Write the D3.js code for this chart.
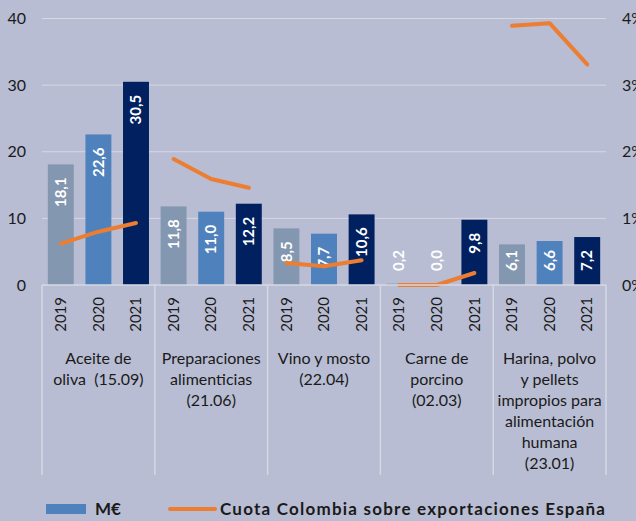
<!DOCTYPE html>
<html lang="es">
<head>
  <meta charset="UTF-8">
  <title>Exportaciones España - Colombia</title>
  <script src="https://cdn.jsdelivr.net/npm/d3@7"></script>
  <style>
    html, body {
      margin: 0;
      padding: 0;
      background: #b8bdd3;
    }
    svg text {
      font-family: Lato, "Open Sans", sans-serif;
      fill: #1a1a1a;
    }
  </style>
</head>
<body>
  <div id="chart"></div>

  <script>
    // Data
    const categories = [
      "Aceite de\noliva  (15.09)",
      "Preparaciones\nalimenticias\n(21.06)",
      "Vino y mosto\n(22.04)",
      "Carne de\nporcino\n(02.03)",
      "Harina, polvo\ny pellets\nimpropios para\nalimentación\nhumana\n(23.01)"
    ];
    const years = ["2019", "2020", "2021"];

    // M€ per year, one value per category
    const meur2019 = [18.1, 11.8, 8.5, 0.2, 6.1];
    const meur2020 = [22.6, 11.0, 7.7, 0.0, 6.6];
    const meur2021 = [30.5, 12.2, 10.6, 9.8, 7.2];

    // Colombia's share of Spanish exports
    const share2019 = [0.0062, 0.0189, 0.0033, 0.0000, 0.0389];
    const share2020 = [0.0080, 0.0159, 0.0028, 0.0000, 0.0393];
    const share2021 = [0.0093, 0.0146, 0.0037, 0.0018, 0.0331];

    const leftTicks = [0, 10, 20, 30, 40];
    const rightTicks = [0, 0.01, 0.02, 0.03, 0.04];

    const legendLabels = ["M€", "Cuota Colombia sobre exportaciones España"];

    const meur = [meur2019, meur2020, meur2021];
    const share = [share2019, share2020, share2021];

    const W = 636, H = 521;
    const plot = { left: 42, right: 606, top: 18.5, bottom: 285 };

    const yearColor = d3.scaleOrdinal().domain(years).range(["#8497b0", "#4f81bd", "#002060"]);
    const lineColor = "#ed7d31";
    const gridColor = "#d6d8e2";

    const esLocale = d3.formatLocale({ decimal: ",", thousands: ".", grouping: [3], currency: ["", "€"] });
    const fmtVal = esLocale.format(".1f");

    const svg = d3.select("#chart").append("svg")
      .attr("width", W)
      .attr("height", H);

    const x0 = d3.scaleBand().domain(categories).range([plot.left, plot.right]);
    const x1 = d3.scaleBand().domain(years).range([0, x0.bandwidth()])
      .paddingInner(0.31).paddingOuter(0.155);
    const y = d3.scaleLinear().domain([0, 40]).range([plot.bottom, plot.top]);
    const yR = d3.scaleLinear().domain([0, 0.04]).range([plot.bottom, plot.top]);

    // horizontal gridlines
    svg.append("g")
      .selectAll("line")
      .data(leftTicks.slice(1))
      .join("line")
      .attr("x1", plot.left).attr("x2", plot.right)
      .attr("y1", d => y(d)).attr("y2", d => y(d))
      .attr("stroke", gridColor)
      .attr("stroke-width", 1);

    // left axis labels
    const yAxis = svg.append("g")
      .attr("transform", "translate(26,0)")
      .call(d3.axisLeft(y).tickValues(leftTicks).tickSize(0).tickPadding(0));
    yAxis.select(".domain").remove();
    yAxis.selectAll("text").attr("font-size", 16).attr("fill", "#1a1a1a");

    // right axis labels (clipped by the frame, as in the original)
    const yAxisR = svg.append("g")
      .attr("transform", "translate(622,0)")
      .call(d3.axisRight(yR).tickValues(rightTicks).tickFormat(d3.format(".0%")).tickSize(0).tickPadding(0));
    yAxisR.select(".domain").remove();
    yAxisR.selectAll("text").attr("font-size", 16).attr("fill", "#1a1a1a");

    // bars
    const groups = svg.append("g")
      .selectAll("g")
      .data(categories)
      .join("g")
      .attr("transform", d => `translate(${x0(d)},0)`);

    const cells = groups.selectAll("g.cell")
      .data((c, i) => years.map((yr, j) => ({ year: yr, value: meur[j][i] })))
      .join("g")
      .attr("class", "cell");

    cells.append("rect")
      .attr("x", d => x1(d.year))
      .attr("width", x1.bandwidth())
      .attr("y", d => y(d.value))
      .attr("height", d => y(0) - y(d.value))
      .attr("fill", d => yearColor(d.year));

    // value labels, rotated, inside the top of the bar when they fit
    cells.append("text")
      .attr("text-anchor", "end")
      .attr("font-size", 15)
      .attr("font-weight", "bold")
      .style("fill", "#ffffff")
      .attr("dy", "0.35em")
      .text(d => fmtVal(d.value))
      .each(function (d) {
        const len = this.getComputedTextLength();
        const yEnd = Math.min(y(d.value) + 13, plot.bottom - len - 14);
        const cx = x1(d.year) + x1.bandwidth() / 2;
        d3.select(this).attr("transform", `translate(${cx},${yEnd}) rotate(-90)`);
      });

    // baseline + group dividers
    svg.append("line")
      .attr("x1", plot.left).attr("x2", plot.right)
      .attr("y1", plot.bottom).attr("y2", plot.bottom)
      .attr("stroke", gridColor).attr("stroke-width", 1.5);

    svg.append("g")
      .selectAll("line")
      .data(categories.map(c => x0(c)).concat([plot.right]))
      .join("line")
      .attr("x1", d => d).attr("x2", d => d)
      .attr("y1", plot.bottom).attr("y2", 475)
      .attr("stroke", gridColor).attr("stroke-width", 1.5);

    // year labels under each bar
    groups.selectAll("text.year")
      .data(years)
      .join("text")
      .attr("class", "year")
      .attr("text-anchor", "end")
      .attr("dy", "0.35em")
      .attr("font-size", 15)
      .attr("transform", d => `translate(${x1(d) + x1.bandwidth() / 2},297) rotate(-90)`)
      .text(d => d);

    // category labels
    groups.append("text")
      .attr("text-anchor", "middle")
      .attr("font-size", 16)
      .style("white-space", "pre")
      .selectAll("tspan")
      .data(d => d.split("\n"))
      .join("tspan")
      .attr("x", x0.bandwidth() / 2)
      .attr("y", (d, i) => 364 + i * 21)
      .text(d => d);

    // share line, one segment per category
    const line = d3.line()
      .x(d => d.x)
      .y(d => yR(d.v));

    groups.append("path")
      .datum((c, i) => years.map((yr, j) => ({ x: x1(yr) + x1.bandwidth() / 2, v: share[j][i] })))
      .attr("d", line)
      .attr("fill", "none")
      .attr("stroke", lineColor)
      .attr("stroke-width", 4)
      .attr("stroke-linecap", "round")
      .attr("stroke-linejoin", "round");

    // legend
    const legend = svg.append("g");
    legend.append("rect")
      .attr("x", 46).attr("y", 504)
      .attr("width", 40).attr("height", 10)
      .attr("fill", yearColor("2020"));
    legend.append("text")
      .attr("x", 95).attr("y", 515)
      .attr("font-size", 17).attr("font-weight", "bold")
      .text(legendLabels[0]);
    legend.append("line")
      .attr("x1", 170).attr("x2", 215)
      .attr("y1", 509).attr("y2", 509)
      .attr("stroke", lineColor).attr("stroke-width", 4)
      .attr("stroke-linecap", "round");
    legend.append("text")
      .attr("x", 220).attr("y", 515)
      .attr("font-size", 17).attr("font-weight", "bold")
      .attr("textLength", 385)
      .attr("lengthAdjust", "spacing")
      .text(legendLabels[1]);
  </script>
</body>
</html>
